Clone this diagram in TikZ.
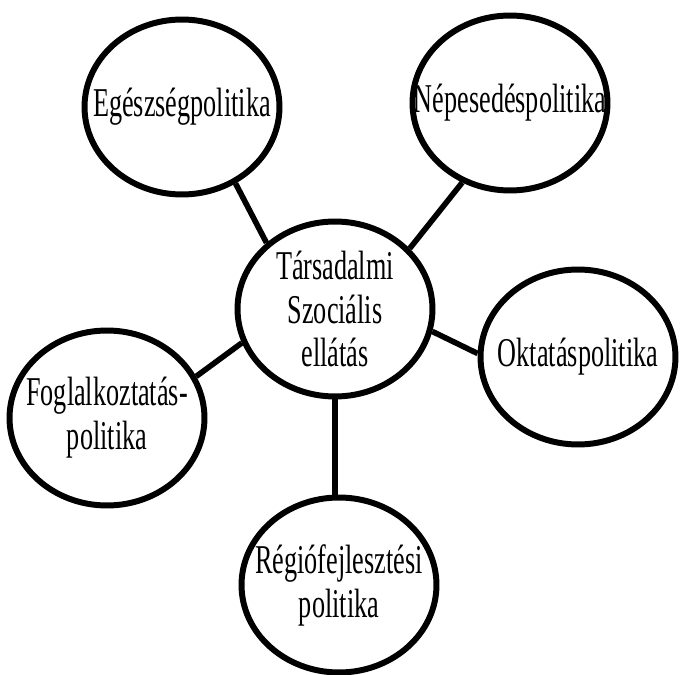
\documentclass[tikz,border=0pt]{standalone}
\usepackage{fontspec}
\setmainfont[FakeStretch=0.64]{Liberation Serif}
\usetikzlibrary{shapes.geometric}
\tikzset{
	kor/.style={
		ellipse,
		draw=black, line width=3.4pt,
		minimum width=3.9cm,
		minimum height=3.5cm,
		inner sep=-1.5cm,
		align=center},
	kapocs/.style={draw, line width=3.2pt},
}

\begin{document}
\begin{tikzpicture}
	[x=0.02cm, y=-0.02cm,
	font=\fontsize{23.3pt}{25pt}\selectfont]
	
	\useasboundingbox (0,0) rectangle (681,675);
	
	\node[kor] (tars)    at (335,309) {Társadalmi\\Szociális\\ellátás};
	\node[kor] (egesz)   at (182,107) {Egészségpolitika};
	\node[kor] (nepes)   at (510,103) {Népesedéspolitika};
	\node[kor] (oktatas) at (578,357) {Oktatáspolitika};
	\node[kor] (foglalk) at (107,418) {Foglalkoztatás-\\politika};
	\node[kor] (regio)   at (339,585) {Régiófejlesztési\\politika};
	
	% kapcsolatok
	\draw[kapocs] (egesz.-55) -- (tars.136);
	\draw[kapocs] (nepes.-121) -- (tars.39);
	\draw[kapocs] (tars.-13) -- (oktatas.178);
	\draw[kapocs] (foglalk.25) -- (tars.-160);
	\draw[kapocs] (tars.south) -- (tars.south |- regio.north);
	
\end{tikzpicture}
\end{document}
